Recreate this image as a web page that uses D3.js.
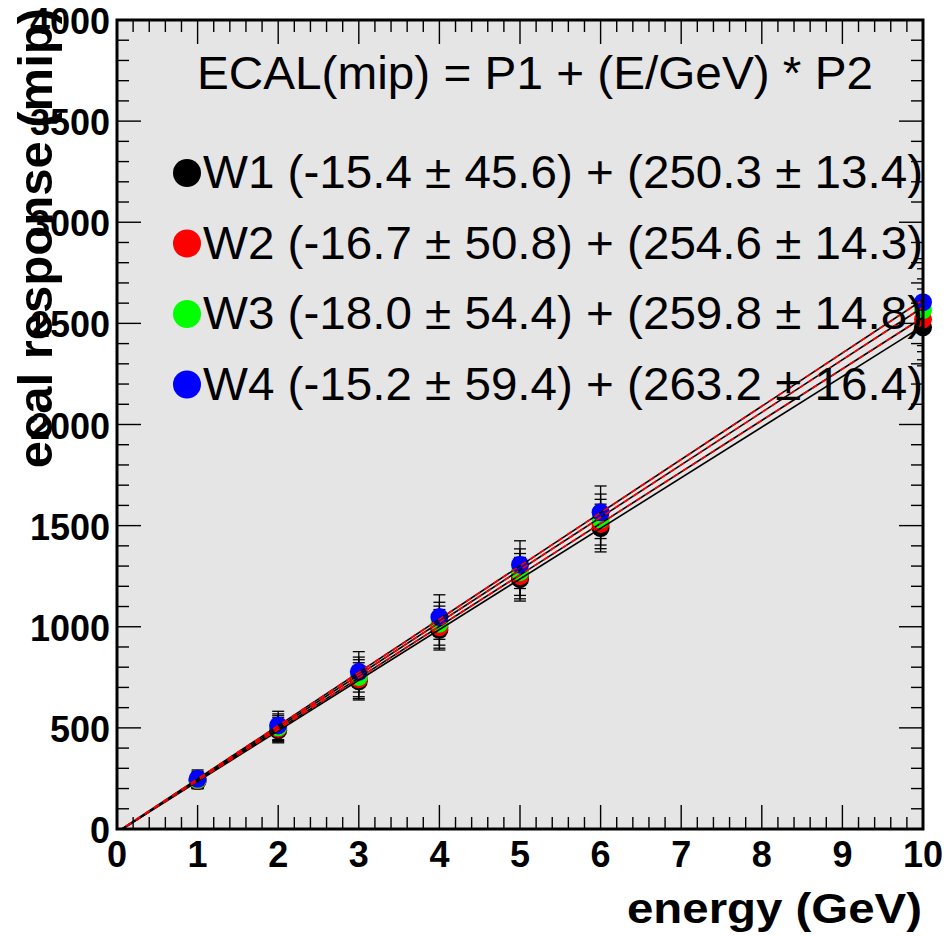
<!DOCTYPE html>
<html>
<head>
<meta charset="utf-8">
<script src="https://cdn.jsdelivr.net/npm/d3@7"></script>
<style>
  body { margin: 0; background: #fff; }
  svg { display: block; }
  text { font-family: "Liberation Sans", Arial, Helvetica, sans-serif; }
</style>
</head>
<body>
<svg width="947" height="936"></svg>
<script>
// measured points (energy in GeV, response in mip)
const energies = [1, 2, 3, 4, 5, 6, 10];
const seriesNames = ['W1', 'W2', 'W3', 'W4'];
const seriesColors = ['#000000', '#ff0000', '#00ff00', '#0000ff'];
const w1 = [237, 488, 730, 985, 1235, 1488, 2480];
const w2 = [240, 496, 741, 998, 1250, 1508, 2520];
const w3 = [243, 503, 752, 1015, 1270, 1530, 2565];
const w4 = [248, 512, 777, 1048, 1307, 1566, 2605];
const w1Err = [38, 62, 92, 100, 108, 118, 190];
const w2Err = [40, 64, 96, 104, 112, 122, 200];
const w3Err = [42, 66, 98, 106, 115, 126, 205];
const w4Err = [44, 70, 100, 110, 118, 130, 215];
// fit results: ECAL = P1 + E * P2
const fitP1 = [-15.4, -16.7, -18.0, -15.2];
const fitP1Err = [45.6, 50.8, 54.4, 59.4];
const fitP2 = [250.3, 254.6, 259.8, 263.2];
const fitP2Err = [13.4, 14.3, 14.8, 16.4];
const xTickLabels = ['0', '1', '2', '3', '4', '5', '6', '7', '8', '9', '10'];
const yTickLabels = ['0', '500', '1000', '1500', '2000', '2500', '3000', '3500', '4000'];

const values = [w1, w2, w3, w4];
const errors = [w1Err, w2Err, w3Err, w4Err];

const padL = 117, padR = 923, padT = 20, padB = 829;
const svg = d3.select('svg');

const x = d3.scaleLinear().domain([0, 10]).range([padL, padR]);
const y = d3.scaleLinear().domain([0, 4000]).range([padB, padT]);

svg.append('defs').append('clipPath')
    .attr('id', 'frame')
    .append('rect')
    .attr('x', padL).attr('y', padT)
    .attr('width', padR - padL).attr('height', padB - padT);

// pad background
svg.append('rect')
    .attr('x', padL).attr('y', padT)
    .attr('width', padR - padL).attr('height', padB - padT)
    .attr('fill', '#e5e5e5');

// ticks on all four sides, pointing inward
const ticks = svg.append('g').attr('stroke', '#000').attr('stroke-width', 1.4);
const xMinor = d3.range(0, 51).map(i => i / 5);
const yMinor = d3.range(0, 41).map(i => i * 100);
xMinor.forEach(v => {
    const len = Math.abs(v - Math.round(v)) < 1e-6 ? 24 : 12;
    ticks.append('line').attr('x1', x(v)).attr('x2', x(v)).attr('y1', padB).attr('y2', padB - len);
    ticks.append('line').attr('x1', x(v)).attr('x2', x(v)).attr('y1', padT).attr('y2', padT + len);
});
yMinor.forEach(v => {
    const len = v % 500 === 0 ? 24 : 12;
    ticks.append('line').attr('y1', y(v)).attr('y2', y(v)).attr('x1', padL).attr('x2', padL + len);
    ticks.append('line').attr('y1', y(v)).attr('y2', y(v)).attr('x1', padR).attr('x2', padR - len);
});

// tick labels
svg.append('g')
    .selectAll('text')
    .data(xTickLabels)
    .enter()
    .append('text')
    .attr('x', (d, i) => x(i))
    .attr('y', 867)
    .attr('text-anchor', 'middle')
    .style('font-size', '36px')
    .style('font-weight', 'bold')
    .text(d => d);

svg.append('g')
    .selectAll('text')
    .data(yTickLabels)
    .enter()
    .append('text')
    .attr('x', 110)
    .attr('y', (d, i) => y(i * 500) + 14)
    .attr('text-anchor', 'end')
    .style('font-size', '36px')
    .style('font-weight', 'bold')
    .text(d => d);

// axis titles
svg.append('text')
    .attr('x', 922)
    .attr('y', 923)
    .attr('text-anchor', 'end')
    .attr('textLength', 295)
    .attr('lengthAdjust', 'spacingAndGlyphs')
    .style('font-size', '42px')
    .style('font-weight', 'bold')
    .text('energy (GeV)');

svg.append('text')
    .attr('transform', 'translate(52,8) rotate(-90)')
    .attr('text-anchor', 'end')
    .style('font-size', '49px')
    .style('font-weight', 'bold')
    .text('ecal response (mip)');

// error bars
const errG = svg.append('g')
    .attr('clip-path', 'url(#frame)')
    .attr('stroke', '#000')
    .attr('stroke-width', 1.3);
values.forEach((vals, s) => {
    vals.forEach((v, i) => {
        const cx = x(energies[i]);
        const lo = y(v - errors[s][i]);
        const hi = y(v + errors[s][i]);
        errG.append('line').attr('x1', cx).attr('x2', cx).attr('y1', lo).attr('y2', hi);
        errG.append('line').attr('x1', cx - 6).attr('x2', cx + 6).attr('y1', lo).attr('y2', lo);
        errG.append('line').attr('x1', cx - 6).attr('x2', cx + 6).attr('y1', hi).attr('y2', hi);
    });
});

// markers
values.forEach((vals, s) => {
    svg.append('g')
        .selectAll('circle')
        .data(vals)
        .enter()
        .append('circle')
        .attr('cx', (d, i) => x(energies[i]))
        .attr('cy', d => y(d))
        .attr('r', 9)
        .attr('fill', seriesColors[s]);
});

// fit lines
const fitG = svg.append('g').attr('clip-path', 'url(#frame)').attr('fill', 'none');
const line = d3.line().x(d => x(d[0])).y(d => y(d[1]));
fitP1.forEach((p1, s) => {
    const pts = [[0, p1], [10, p1 + 10 * fitP2[s]]];
    fitG.append('path')
        .attr('d', line(pts))
        .attr('stroke', '#000')
        .attr('stroke-width', 1.6);
    if (s > 0) {
        fitG.append('path')
            .attr('d', line(pts))
            .attr('stroke', '#ff0000')
            .attr('stroke-width', 1.6)
            .attr('stroke-dasharray', '6,5');
    }
});

// frame
svg.append('rect')
    .attr('x', padL).attr('y', padT)
    .attr('width', padR - padL).attr('height', padB - padT)
    .attr('fill', 'none')
    .attr('stroke', '#000')
    .attr('stroke-width', 3);

// title and legend
svg.append('text')
    .attr('x', 197)
    .attr('y', 89)
    .attr('textLength', 676)
    .attr('lengthAdjust', 'spacingAndGlyphs')
    .style('font-size', '46px')
    .text('ECAL(mip) = P1 + (E/GeV) * P2');

const legend = svg.append('g')
    .selectAll('g')
    .data(seriesNames)
    .enter()
    .append('g')
    .attr('transform', (d, i) => `translate(0,${i * 70.5})`);

legend.append('circle')
    .attr('cx', 187)
    .attr('cy', 173)
    .attr('r', 14)
    .attr('fill', (d, i) => seriesColors[i]);

legend.append('text')
    .attr('x', 203)
    .attr('y', 188)
    .attr('textLength', 720)
    .attr('lengthAdjust', 'spacingAndGlyphs')
    .style('font-size', '47px')
    .text((d, i) => `${d} (${fitP1[i].toFixed(1)} \u00b1 ${fitP1Err[i].toFixed(1)}) + (${fitP2[i].toFixed(1)} \u00b1 ${fitP2Err[i].toFixed(1)})`);
</script>
</body>
</html>
